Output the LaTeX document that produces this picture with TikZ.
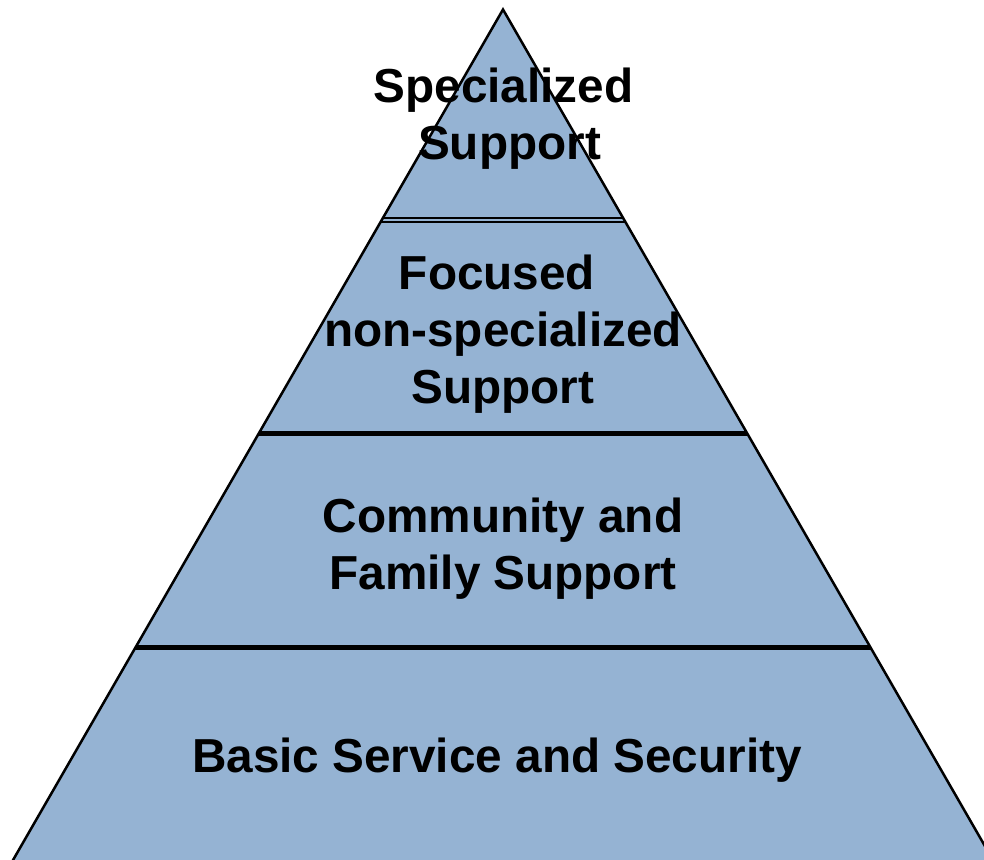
\documentclass[tikz,border=0pt]{standalone}
\usepackage{fontspec}
\setmainfont{Liberation Sans}
\definecolor{pyrfill}{RGB}{149,179,211}
\tikzset{
  edge/.style={draw=black, line width=2.5pt, line join=miter},
  sepline/.style={draw=black, line width=4.5pt},
  thinsep/.style={draw=black, line width=2pt},
  lbl/.style={anchor=north, inner sep=0pt, align=center, text=black,
    font=\bfseries\fontsize{47.7}{57}\selectfont}
}
\begin{document}
\begin{tikzpicture}[x=1pt,y=-1pt]
\useasboundingbox (0,0) rectangle (984,859);
\begin{scope}
\clip (0,0) rectangle (984,859);
\coordinate (apex) at (503,9.5);
\coordinate (bl) at (-10,900);
\coordinate (br) at (1016,900);
\fill[pyrfill] (apex) -- (bl) -- (br) -- cycle;
\begin{scope}
\clip (apex) -- (bl) -- (br) -- cycle;
\draw[thinsep] (0,218.3) -- (984,218.3);
\draw[thinsep] (0,221.7) -- (984,221.7);
\draw[sepline] (0,433.5) -- (984,433.5);
\draw[sepline] (0,647.5) -- (984,647.5);
\end{scope}
\draw[edge] (bl) -- (apex) -- (br);
\end{scope}
\node[lbl] (spec) at (503.5,67.5) {Specialized\\\kern12pt Support};
\node[lbl] (focus) at (503,254.5) {Focused\kern12pt\\non-specialized\\Support};
\node[lbl] (comm) at (503,497.5) {Community and\\Family Support};
\node[lbl] (basic) at (497,737.5) {Basic Service and Security};
\end{tikzpicture}
\end{document}
